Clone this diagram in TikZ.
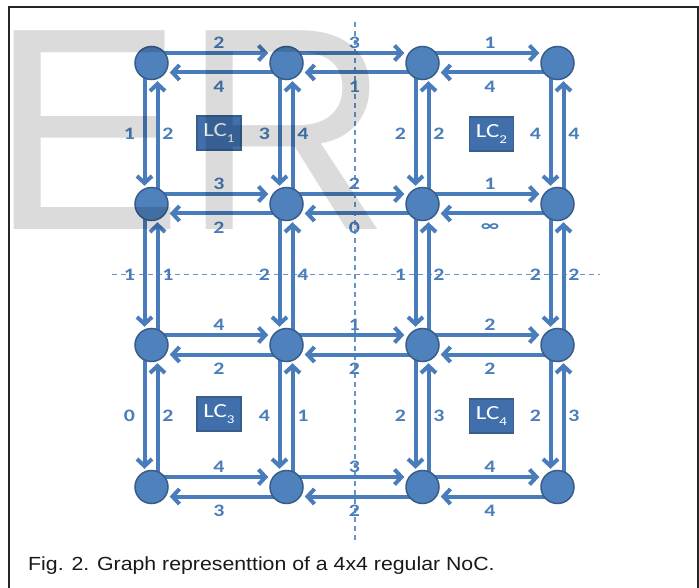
\documentclass[tikz,border=0pt]{standalone}
\usepackage{fontspec}
\usepackage{graphicx}
\setmainfont{Carlito}
\newfontfamily\capfont{Liberation Sans}
\newfontfamily\wmfont{Liberation Sans}
\usetikzlibrary{arrows.meta,calc}
\definecolor{eblue}{RGB}{72,124,186}
\definecolor{nblue}{RGB}{79,129,189}
\definecolor{nborder}{RGB}{56,93,138}
\definecolor{lcblue}{RGB}{64,111,172}
\definecolor{lblue}{RGB}{74,126,187}
\definecolor{dblue}{RGB}{100,150,205}
\pgfdeclarelayer{bg}\pgfdeclarelayer{edges}\pgfsetlayers{bg,edges,main}
\newcommand\wx[1]{\scalebox{1.25}[1]{#1}}
\newcommand\hpair[6]{%
  \draw[edge,transform canvas={yshift=10pt}] (#1) -- node[lbl,yshift=10pt] (#5) {\wx{#3}} (#2);
  \draw[edge,transform canvas={yshift=-9.5pt}] (#2) -- node[lbl,yshift=-14pt] (#6) {\wx{#4}} (#1);}
\newcommand\vpair[6]{%
  \draw[edge,transform canvas={xshift=-7pt}] (#1) -- node[lbl,xshift=-15pt] (#5) {\wx{#3}} (#2);
  \draw[edge,transform canvas={xshift=6pt}] (#2) -- node[lbl,xshift=10.5pt] (#6) {\wx{#4}} (#1);}
\tikzset{
  router/.style={circle,minimum size=33pt,inner sep=0pt,fill=nblue,draw=nborder,line width=1.5pt},
  lcbox/.style={rectangle,minimum width=44pt,minimum height=34pt,inner sep=0pt,fill=lcblue,draw=nborder,line width=1.3pt,text=white,font=\fontsize{20}{20}\selectfont},
  edge/.style={draw=eblue,line width=4pt,-{Straight Barb[length=7pt,width=15pt]},shorten <=-5pt,shorten >=1pt},
  lbl/.style={text=lblue,inner sep=0pt,font=\bfseries\fontsize{17.5}{17.5}\selectfont},
  guide/.style={draw=dblue,line width=1.1pt,dash pattern=on 5pt off 4pt}
}
\newcommand\lc[1]{\wx{LC\raisebox{-0.28em}{\fontsize{12}{12}\selectfont #1}}}
\begin{document}
\begin{tikzpicture}[x=1pt,y=-1pt]
\useasboundingbox (0,0) rectangle (699,588);
\begin{pgfonlayer}{bg}
  \fill[white] (0,0) rectangle (699,588);
  \draw[line width=2pt,black!85] (9,7.5) rectangle (697.5,600);
  \coordinate (vt) at (355,22);
  \coordinate (vb) at (355,540);
  \coordinate (hl) at (112,274.5);
  \coordinate (hr) at (600,274.5);
  \draw[guide] (vt) -- (vb);
  \draw[guide] (hl) -- (hr);
\end{pgfonlayer}
% routers
\foreach \r/\y in {1/63,2/204,3/345,4/487}{
  \foreach \c/\x in {1/151.5,2/286.5,3/422.5,4/557.5}{
    \node[router] (n\r\c) at (\x,\y) {};
  }
}
% LC boxes
\node[lcbox] (lc1) at (219,133) {\lc{1}};
\node[lcbox] (lc2) at (491.5,134) {\lc{2}};
\node[lcbox] (lc3) at (219,414) {\lc{3}};
\node[lcbox] (lc4) at (491.5,416) {\lc{4}};
\begin{pgfonlayer}{edges}
  \hpair{n11}{n12}{2}{4}{a1}{a2}
  \hpair{n12}{n13}{3}{1}{a3}{a4}
  \hpair{n13}{n14}{1}{4}{a5}{a6}
  \hpair{n21}{n22}{3}{2}{b1}{b2}
  \hpair{n22}{n23}{2}{0}{b3}{b4}
  \hpair{n23}{n24}{1}{∞}{b5}{b6}
  \hpair{n31}{n32}{4}{2}{c1}{c2}
  \hpair{n32}{n33}{1}{2}{c3}{c4}
  \hpair{n33}{n34}{2}{2}{c5}{c6}
  \hpair{n41}{n42}{4}{3}{d1}{d2}
  \hpair{n42}{n43}{3}{2}{d3}{d4}
  \hpair{n43}{n44}{4}{4}{d5}{d6}
  \vpair{n11}{n21}{1}{2}{e1}{e2}
  \vpair{n12}{n22}{3}{4}{e3}{e4}
  \vpair{n13}{n23}{2}{2}{e5}{e6}
  \vpair{n14}{n24}{4}{4}{e7}{e8}
  \vpair{n21}{n31}{1}{1}{f1}{f2}
  \vpair{n22}{n32}{2}{4}{f3}{f4}
  \vpair{n23}{n33}{1}{2}{f5}{f6}
  \vpair{n24}{n34}{2}{2}{f7}{f8}
  \vpair{n31}{n41}{0}{2}{g1}{g2}
  \vpair{n32}{n42}{4}{1}{g3}{g4}
  \vpair{n33}{n43}{2}{3}{g5}{g6}
  \vpair{n34}{n44}{2}{3}{g7}{g8}
\end{pgfonlayer}
% caption
\node[anchor=base west,inner sep=0pt,text=black!90,font=\capfont\fontsize{19}{19}\selectfont] (cap) at (28,570) {\scalebox{1.12}[1]{Fig. 2. Graph representtion of a 4x4 regular NoC.}};
% watermark
\node[anchor=base west,inner sep=0pt,text=black,text opacity=0.14,font=\wmfont\fontsize{289}{289}\selectfont] (wm) at (-10,230) {ER};
\end{tikzpicture}
\end{document}
